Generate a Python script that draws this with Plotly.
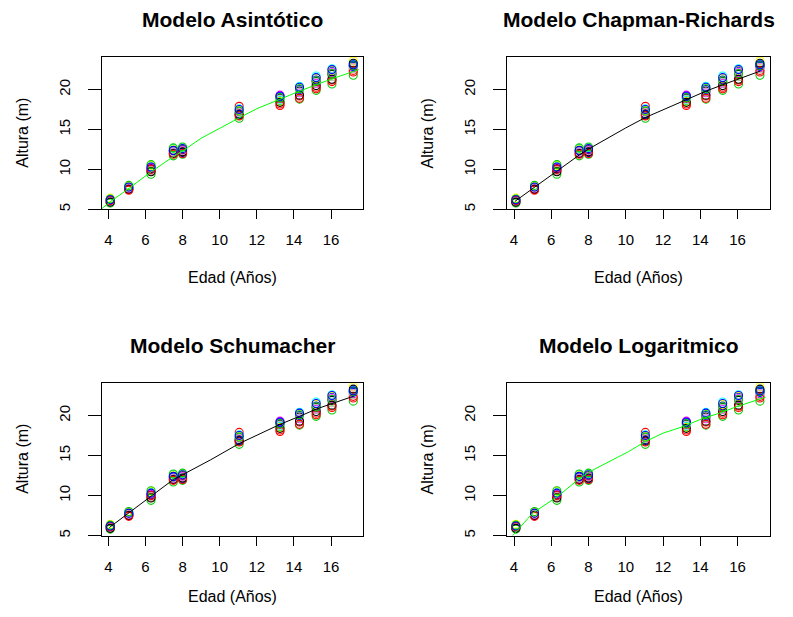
import plotly.graph_objects as go

# ---- data ----
ages = [4.1, 5.1, 6.3, 7.5, 8.0, 11.05, 13.25, 14.3, 15.2, 16.05, 17.2]

tree_heights = [
    [6.2, 7.7, 10.1, 12.4, 12.5, 17.0, 18.9, 19.8, 21.0, 21.9, 23.0],
    [5.9, 7.5, 9.8, 12.2, 12.3, 17.9, 18.2, 19.2, 20.3, 21.2, 22.4],
    [5.8, 7.6, 9.4, 11.7, 11.9, 16.4, 18.6, 18.8, 19.9, 20.7, 21.8],
    [6.0, 7.8, 10.0, 12.3, 12.1, 16.9, 19.1, 20.0, 21.2, 22.3, 22.9],
    [6.3, 7.9, 10.4, 12.6, 12.7, 17.6, 18.7, 20.4, 21.7, 22.6, 23.2],
    [6.1, 7.6, 10.2, 12.1, 12.4, 17.2, 19.3, 19.6, 20.8, 22.1, 22.7],
    [6.4, 7.9, 10.5, 12.5, 12.6, 17.4, 18.5, 20.2, 21.4, 22.4, 23.6],
    [6.0, 7.7, 9.9, 12.2, 12.3, 17.1, 18.8, 19.7, 20.9, 21.6, 22.6],
    [5.9, 7.5, 9.7, 12.0, 12.2, 16.8, 18.4, 19.3, 20.5, 21.3, 23.3],
    [6.1, 7.4, 10.0, 11.9, 12.0, 16.7, 18.0, 18.9, 20.1, 21.0, 22.2],
    [6.3, 8.0, 10.6, 12.7, 12.8, 17.3, 19.0, 20.1, 21.1, 22.0, 23.0],
    [6.2, 7.8, 10.3, 12.4, 12.6, 17.5, 19.2, 20.3, 21.5, 22.5, 23.1],
]
tree_colors = ["#000000", "#FF0000", "#00CD00", "#0000FF", "#00FFFF",
               "#FF00FF", "#FFFF00", "#BEBEBE", "#000000", "#FF0000",
               "#00CD00", "#0000FF"]

titles = ["Modelo Asintótico", "Modelo Chapman-Richards",
          "Modelo Schumacher", "Modelo Logaritmico"]

asin_x = [3.5, 4.1, 5.1, 6.3, 7.5, 8.0, 9.0, 10.0, 11.0, 12.0, 13.3, 14.3, 15.2, 16.0, 17.5]
asin_y = [4.8, 5.95, 7.6, 9.7, 11.6, 12.3, 13.9, 15.2, 16.4, 17.6, 18.9, 19.8, 20.6, 21.3, 22.5]

chap_x = [4.05, 5.1, 6.3, 7.5, 8.0, 9.0, 10.0, 11.05, 12.2, 13.25, 14.3, 15.2, 16.05, 17.2]
chap_y = [6.0, 7.75, 9.85, 11.8, 12.55, 13.9, 15.2, 16.5, 17.7, 18.75, 19.8, 20.6, 21.3, 22.3]

schu_x = [4.05, 5.1, 6.3, 7.5, 8.0, 9.5, 11.05, 12.2, 13.25, 14.3, 15.2, 16.05, 17.2]
schu_y = [6.0, 7.8, 9.9, 12.0, 12.6, 14.45, 16.5, 17.8, 18.9, 19.9, 20.8, 21.5, 22.4]

loga_x = [3.9, 5.0, 6.35, 7.45, 8.0, 9.1, 10.15, 11.05, 12.0, 13.05, 14.15, 14.9, 15.95, 17.5]
loga_y = [4.9, 7.8, 9.9, 12.0, 12.9, 14.25, 15.5, 16.75, 17.8, 18.6, 19.65, 20.2, 21.1, 22.3]

fits = [(asin_x, asin_y, "#00FF00"), (chap_x, chap_y, "#000000"),
        (schu_x, schu_y, "#000000"), (loga_x, loga_y, "#00FF00")]

x_ticks = [4, 6, 8, 10, 12, 14, 16]
y_ticks = [5, 10, 15, 20]

# ---- layout geometry (pixels in the page; the page body has an 8px margin) ----
OFF = 8
W, H = 793 - 2 * OFF, 617 - 2 * OFF
col_px = [(101.7, 363.3), (507.3, 770.0)]
row_px = [(57.0, 210.0), (384.0, 537.3)]

fig = go.Figure()
FONT = "Liberation Sans, Arial, sans-serif"

annotations = []
for i in range(4):
    r, c = divmod(i, 2)
    n = i + 1
    xs = "x" if n == 1 else f"x{n}"
    ys = "y" if n == 1 else f"y{n}"
    for h, col in zip(tree_heights, tree_colors):
        fig.add_trace(go.Scatter(
            x=ages, y=h, mode="markers", xaxis=xs, yaxis=ys, showlegend=False,
            marker=dict(symbol="circle-open", size=8, color=col,
                        line=dict(width=1.1, color=col))))
    fx, fy, fc = fits[i]
    fig.add_trace(go.Scatter(x=fx, y=fy, mode="lines", xaxis=xs, yaxis=ys,
                             showlegend=False, line=dict(color=fc, width=1)))

    x0, x1 = [v - OFF for v in col_px[c]]
    y0, y1 = [v - OFF for v in row_px[r]]
    xd = [x0 / W, x1 / W]
    yd = [1 - y1 / H, 1 - y0 / H]
    axis_common = dict(showgrid=False, zeroline=False, showline=True,
                       linecolor="black", linewidth=1, mirror=True,
                       ticks="outside", tickcolor="black", tickwidth=1,
                       tickfont=dict(family=FONT, size=15, color="black"))
    fig.layout[f"xaxis{'' if n == 1 else n}"] = dict(
        domain=xd, range=[3.64, 17.74], tickvals=x_ticks, ticklen=9,
        anchor=ys, ticklabelstandoff=8, **axis_common)
    fig.layout[f"yaxis{'' if n == 1 else n}"] = dict(
        domain=yd, range=[5.0, 24.1], tickvals=y_ticks, ticklen=13,
        tickangle=-90, anchor=xs, ticklabelstandoff=12, **axis_common)

    cx = (x0 + x1) / 2 / W
    annotations.append(dict(text=f"<b>{titles[i]}</b>", x=cx, y=1 - (y0 - 37) / H,
                            xref="paper", yref="paper", showarrow=False,
                            xanchor="center", yanchor="middle",
                            font=dict(family=FONT, size=21, color="black")))
    if r == 0:
        annotations.append(dict(text="Edad (Años)", x=cx, y=1 - (y1 + 68) / H,
                                xref="paper", yref="paper", showarrow=False,
                                xanchor="center", yanchor="middle",
                                font=dict(family=FONT, size=16, color="black")))
    else:
        annotations.append(dict(text="Edad (Años)", x=cx, y=0,
                                xref="paper", yref="paper", showarrow=False,
                                xanchor="center", yanchor="bottom",
                                font=dict(family=FONT, size=16, color="black")))
    annotations.append(dict(text="Altura (m)", x=(x0 - 80) / W, y=1 - (y0 + y1) / 2 / H,
                            xref="paper", yref="paper", showarrow=False, textangle=-90,
                            xanchor="center", yanchor="middle",
                            font=dict(family=FONT, size=16, color="black")))

fig.update_layout(width=W, height=H, margin=dict(l=0, r=0, t=0, b=0),
                  paper_bgcolor="white", plot_bgcolor="white",
                  annotations=annotations)

fig.write_html("out.html")
